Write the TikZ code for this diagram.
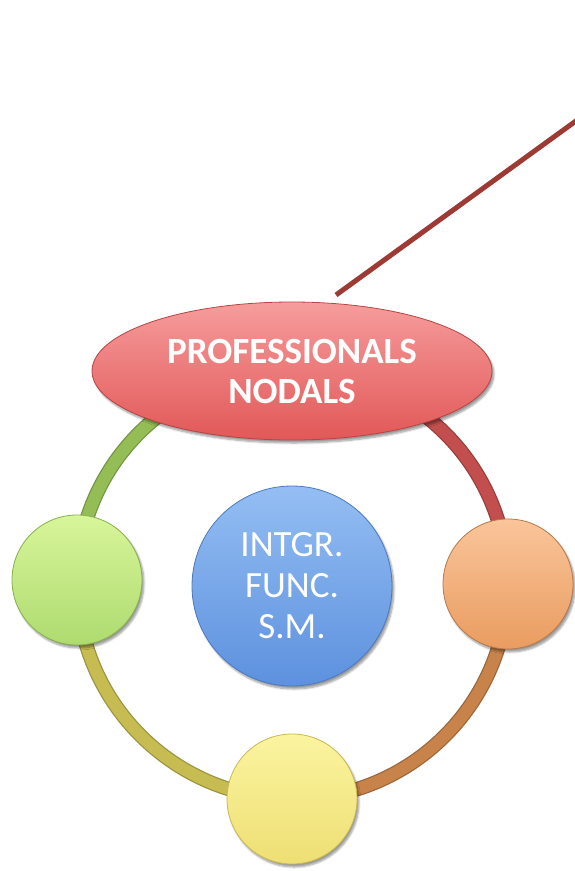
\documentclass[tikz,border=0pt]{standalone}
\usepackage{fontspec}
\setmainfont{Carlito}
\usetikzlibrary{shapes.geometric,shadows.blur,backgrounds}
\definecolor{lineRed}{HTML}{9E3A34}
\definecolor{arcGreen}{HTML}{94BE55}
\definecolor{arcOlive}{HTML}{C6BC52}
\definecolor{arcBrown}{HTML}{C7834A}
\definecolor{arcRed}{HTML}{C24E4E}
\definecolor{profTop}{HTML}{F69C9C}
\definecolor{profBot}{HTML}{E25858}
\definecolor{profRim}{HTML}{B84444}
\definecolor{greenTop}{HTML}{D8F59A}
\definecolor{greenBot}{HTML}{AEDB70}
\definecolor{greenRim}{HTML}{86B04A}
\definecolor{yellowTop}{HTML}{FBF4A0}
\definecolor{yellowBot}{HTML}{EEDF74}
\definecolor{yellowRim}{HTML}{C8B850}
\definecolor{orangeTop}{HTML}{FAC59A}
\definecolor{orangeBot}{HTML}{E99C60}
\definecolor{orangeRim}{HTML}{B8784A}
\definecolor{blueTop}{HTML}{94BEF3}
\definecolor{blueBot}{HTML}{5D91DE}
\definecolor{blueRim}{HTML}{4A79C0}
\tikzset{
	bead/.style={
			circle, inner sep=0pt, minimum size=130pt,
			top color=#1Top, bottom color=#1Bot, draw=#1Rim, line width=0.8pt,
			blur shadow={shadow xshift=2pt, shadow yshift=-3pt, shadow blur steps=6}
		},
	ringarc/.style={
			line width=12pt, draw=#1,
			preaction={draw=#1!78!black, line width=14.5pt}
		},
	bigtext/.style={text=white, align=center, font=\fontsize{37}{41}\selectfont}
}

\begin{document}
\begin{tikzpicture}[x=1pt,y=-1pt]
	\useasboundingbox (0,0) rectangle (574,871);

	% leader line
	\coordinate (tail) at (336,295);
	\coordinate (tip) at (580,118);
	\draw[lineRed, line width=5pt] (tail) -- (tip);

	% nodes on the ring
	\node[bead=prof, ellipse, minimum width=400pt, minimum height=138pt,
		bigtext, font=\bfseries\fontsize{37}{40}\selectfont] (prof) at (292,371) {PROFESSIONALS\\NODALS};
	\node[bead=green] (green) at (77,580) {};
	\node[bead=yellow] (yellow) at (292,799) {};
	\node[bead=orange] (orange) at (508,584) {};

	% centre
	\node[bead=blue, minimum size=200pt, bigtext] (integr) at (292,586) {INTGR.\\FUNC.\\S.M.};

	% ring pieces
	\begin{pgfonlayer}{background}
		\draw[ringarc=arcGreen] (prof.center) to[bend right=45] (green.center);
		\draw[ringarc=arcOlive] (green.center) to[bend right=45] (yellow.center);
		\draw[ringarc=arcBrown] (yellow.center) to[bend right=45] (orange.center);
		\draw[ringarc=arcRed] (orange.center) to[bend right=45] (prof.center);
	\end{pgfonlayer}
\end{tikzpicture}
\end{document}
